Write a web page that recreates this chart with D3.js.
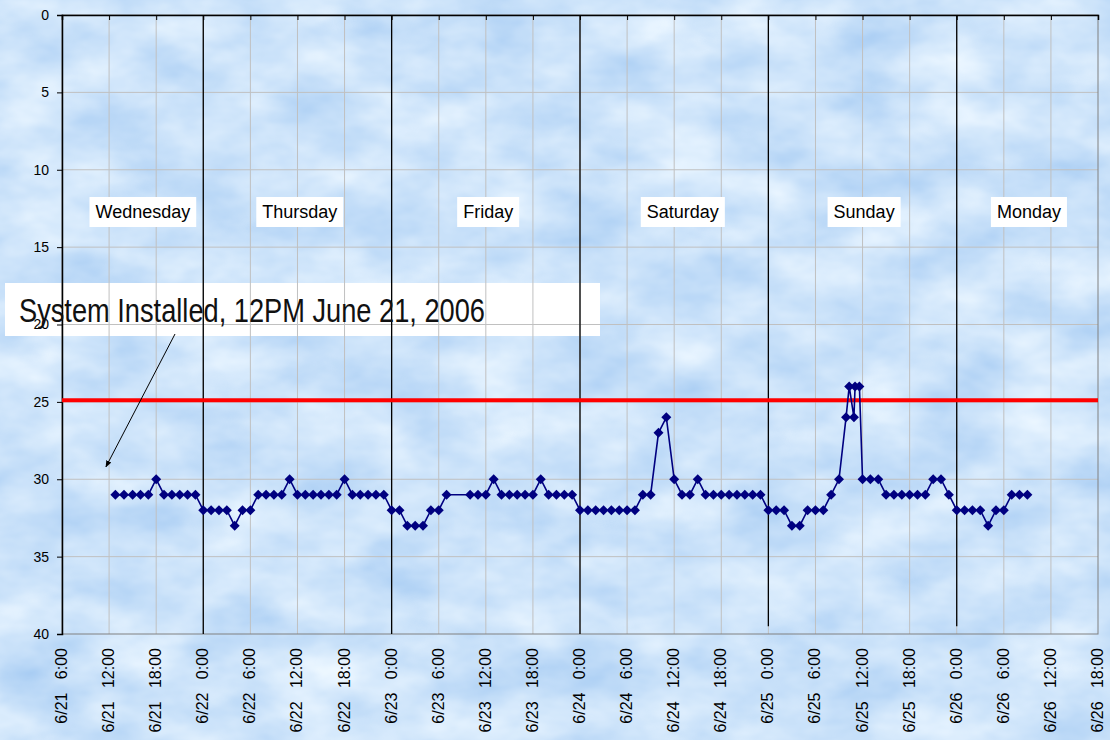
<!DOCTYPE html>
<html>
<head>
<meta charset="utf-8">
<script src="https://cdn.jsdelivr.net/npm/d3@7"></script>
<style>
    body { margin: 0; }
    svg { display: block; }
</style>
</head>
<body>
<script>
// readings: hours counted from 6/21 0:00, and the value read at that time
var readingHours = [12.8, 13.9, 15, 16, 17, 18, 19, 20, 21, 22, 23,
    24, 25, 26, 27, 28, 29, 30, 31, 32, 33, 34, 35, 36, 37, 38, 39, 40, 41, 42, 43, 44, 45, 46, 47,
    48, 49, 50, 51, 52, 53, 54, 55, 58, 59, 60, 61, 62, 63, 64, 65, 66, 67, 68, 69, 70, 71,
    72, 73, 74, 75, 76, 77, 78, 79, 80, 81, 82, 83, 84, 85, 86, 87, 88, 89, 90, 91, 92, 93, 94, 95,
    96, 97, 98, 99, 100, 101, 102, 103, 104, 105, 105.9, 106.3, 106.9, 107.05, 107.6,
    108, 109, 110, 111, 112, 113, 114, 115, 116, 117, 118, 119,
    120, 121, 122, 123, 124, 125, 126, 127, 128, 129];
var readingValues = [31, 31, 31, 31, 31, 30, 31, 31, 31, 31, 31,
    32, 32, 32, 32, 33, 32, 32, 31, 31, 31, 31, 30, 31, 31, 31, 31, 31, 31, 30, 31, 31, 31, 31, 31,
    32, 32, 33, 33, 33, 32, 32, 31, 31, 31, 31, 30, 31, 31, 31, 31, 31, 30, 31, 31, 31, 31,
    32, 32, 32, 32, 32, 32, 32, 32, 31, 31, 27, 26, 30, 31, 31, 30, 31, 31, 31, 31, 31, 31, 31, 31,
    32, 32, 32, 33, 33, 32, 32, 32, 31, 30, 26, 24, 26, 24, 24,
    30, 30, 30, 31, 31, 31, 31, 31, 31, 30, 30, 31,
    32, 32, 32, 32, 33, 32, 32, 31, 31, 31];

var xTickHours = [6, 12, 18, 24, 30, 36, 42, 48, 54, 60, 66, 72, 78, 84, 90, 96, 102, 108, 114, 120, 126, 132, 138];
var yTicks = [0, 5, 10, 15, 20, 25, 30, 35, 40];

var dayNames = ["Wednesday", "Thursday", "Friday", "Saturday", "Sunday", "Monday"];
var dayLabelHours = [16.3, 36.3, 60.3, 85.1, 108.2, 129.2];
var dayLineHours = [24, 48, 72, 96, 120];
var dayLineEnds = [40, 40, 40, 39.5, 39.5];

var limitValue = 24.9;
var noteText = "System Installed, 12PM June 21, 2006";
var noteTarget = [11.6, 29.2];

var W = 1110, H = 740;
var margin = {top: 15, right: 12, bottom: 106, left: 62};

var x = d3.scaleLinear().domain([6, 138]).range([margin.left, W - margin.right]);
var y = d3.scaleLinear().domain([0, 40]).range([margin.top, H - margin.bottom]);

var svg = d3.select("body").append("svg")
    .attr("width", W)
    .attr("height", H)
    .style("font-family", "Arial, 'Liberation Sans', sans-serif");

// cloudy sky background
var defs = svg.append("defs");
var f = defs.append("filter").attr("id", "sky")
    .attr("x", 0).attr("y", 0).attr("width", "100%").attr("height", "100%")
    .attr("color-interpolation-filters", "sRGB");
f.append("feTurbulence")
    .attr("type", "fractalNoise")
    .attr("baseFrequency", "0.011 0.02")
    .attr("numOctaves", 4)
    .attr("seed", 7);
f.append("feColorMatrix")
    .attr("type", "matrix")
    .attr("values", "0.32 0 0 0 0.64  0.2 0 0 0 0.79  0.06 0 0 0 0.95  0 0 0 0 1");

defs.append("marker")
    .attr("id", "tip")
    .attr("viewBox", "0 0 10 10")
    .attr("refX", 9).attr("refY", 5)
    .attr("markerWidth", 7).attr("markerHeight", 7)
    .attr("orient", "auto")
  .append("path")
    .attr("d", "M0,1 L10,5 L0,9 Z")
    .attr("fill", "#000");

svg.append("rect")
    .attr("width", W).attr("height", H)
    .attr("filter", "url(#sky)");

// annotation box sits under the grid
svg.append("rect")
    .attr("x", 5).attr("y", 283)
    .attr("width", 595).attr("height", 53)
    .attr("fill", "#fff");

// grid
svg.append("g").selectAll("line")
    .data(xTickHours.slice(1, -1))
    .enter().append("line")
    .attr("x1", function(d) { return x(d); })
    .attr("x2", function(d) { return x(d); })
    .attr("y1", y(0)).attr("y2", y(40))
    .attr("stroke", "#c0c0c0");

svg.append("g").selectAll("line")
    .data(yTicks.slice(1, -1))
    .enter().append("line")
    .attr("x1", x(6)).attr("x2", x(138))
    .attr("y1", function(d) { return y(d); })
    .attr("y2", function(d) { return y(d); })
    .attr("stroke", "#c0c0c0");

// plot border
svg.append("rect")
    .attr("x", x(6)).attr("y", y(0))
    .attr("width", x(138) - x(6)).attr("height", y(40) - y(0))
    .attr("fill", "none")
    .attr("stroke", "#808080");

// axes (x axis line at value 0, along the top)
var xAxis = svg.append("g")
    .attr("transform", "translate(0," + y(0) + ")")
    .call(d3.axisBottom(x).tickValues(xTickHours).tickSize(5).tickFormat(""));
xAxis.select(".domain").attr("stroke", "#000").attr("stroke-width", 1.5);

var yAxis = svg.append("g")
    .attr("transform", "translate(" + x(6) + ",0)")
    .call(d3.axisLeft(y).tickValues(yTicks).tickSize(5).tickPadding(8));
yAxis.select(".domain").attr("stroke", "#000").attr("stroke-width", 1.5);
yAxis.selectAll("text").attr("font-size", 14).attr("fill", "#000")
    .style("font-family", "Arial, 'Liberation Sans', sans-serif");

// x labels, rotated, reading upward
svg.append("g").selectAll("text")
    .data(xTickHours)
    .enter().append("text")
    .attr("transform", function(d) { return "translate(" + (x(d) + 5) + ",648) rotate(-90)"; })
    .attr("text-anchor", "end")
    .attr("font-size", 16)
    .style("white-space", "pre")
    .text(function(d) {
        return "6/" + (21 + Math.floor(d / 24)) + "   " + (d % 24) + ":00";
    });

// day divider lines
svg.append("g").selectAll("line")
    .data(dayLineHours)
    .enter().append("line")
    .attr("x1", function(d) { return x(d); })
    .attr("x2", function(d) { return x(d); })
    .attr("y1", y(0))
    .attr("y2", function(d, i) { return y(dayLineEnds[i]); })
    .attr("stroke", "#000")
    .attr("stroke-width", 1.3);

// limit line
svg.append("line")
    .attr("x1", x(6)).attr("x2", x(138))
    .attr("y1", y(limitValue)).attr("y2", y(limitValue))
    .attr("stroke", "#ff0000")
    .attr("stroke-width", 4);

// readings
var pts = readingHours.map(function(h, i) { return [h, readingValues[i]]; });

svg.append("path")
    .datum(pts)
    .attr("fill", "none")
    .attr("stroke", "#000080")
    .attr("stroke-width", 1.6)
    .attr("d", d3.line()
        .x(function(d) { return x(d[0]); })
        .y(function(d) { return y(d[1]); }));

svg.append("g").selectAll("path")
    .data(pts)
    .enter().append("path")
    .attr("transform", function(d) { return "translate(" + x(d[0]) + "," + y(d[1]) + ")"; })
    .attr("d", "M0,-5 L5,0 L0,5 L-5,0 Z")
    .attr("fill", "#000080");

// day name boxes
var days = svg.append("g").selectAll("g")
    .data(dayNames)
    .enter().append("g")
    .attr("transform", function(d, i) { return "translate(" + x(dayLabelHours[i]) + "," + 212 + ")"; });

days.append("text")
    .attr("text-anchor", "middle")
    .attr("dy", "0.35em")
    .attr("font-size", 18)
    .text(function(d) { return d; });

days.each(function() {
    var g = d3.select(this);
    var b = g.select("text").node().getBBox();
    g.insert("rect", "text")
        .attr("x", b.x - 6).attr("y", -15)
        .attr("width", b.width + 12).attr("height", 30)
        .attr("fill", "#fff");
});

// annotation
svg.append("line")
    .attr("x1", 175).attr("y1", 334)
    .attr("x2", x(noteTarget[0])).attr("y2", y(noteTarget[1]))
    .attr("stroke", "#000")
    .attr("marker-end", "url(#tip)");

svg.append("text")
    .attr("x", 19).attr("y", 322)
    .attr("font-size", 33)
    .attr("fill", "#111")
    .attr("textLength", 466)
    .attr("lengthAdjust", "spacingAndGlyphs")
    .style("font-family", "'Liberation Sans Narrow', 'Arial Narrow', 'Liberation Sans', sans-serif")
    .text(noteText);
</script>
</body>
</html>
